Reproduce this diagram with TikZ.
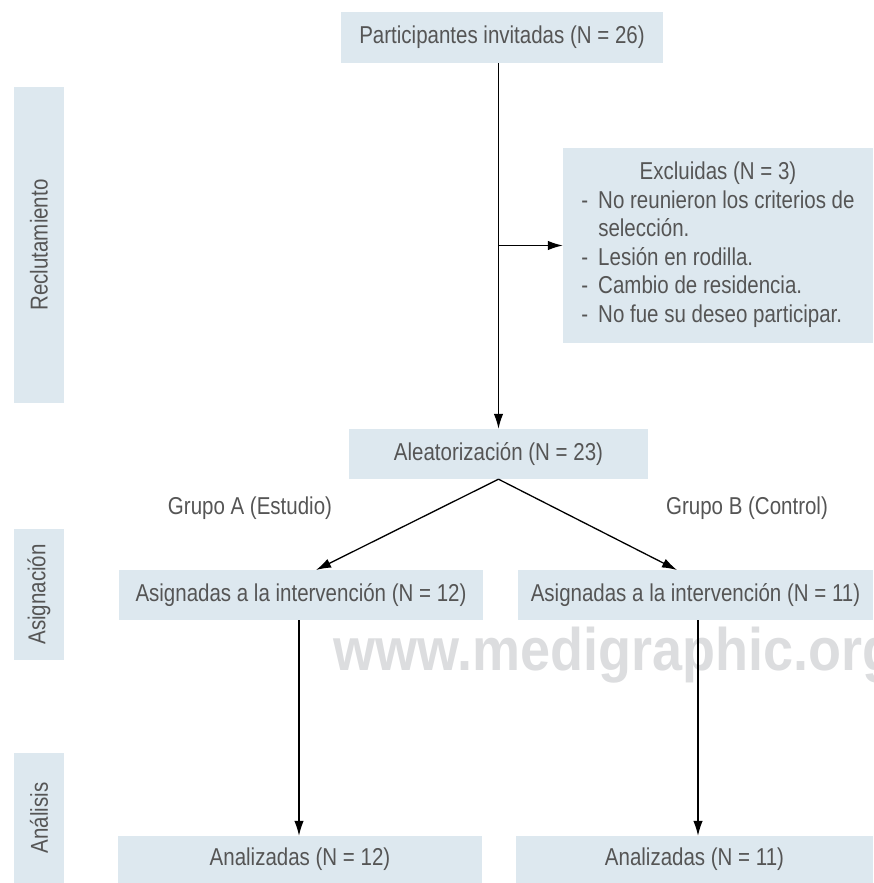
\documentclass[tikz,border=0pt]{standalone}
\usepackage{fontspec}
\setmainfont[FakeStretch=0.84]{Liberation Sans}
\newfontfamily\marcafont[FakeStretch=0.9]{Liberation Sans}
\usepackage{tikz}
\usetikzlibrary{positioning}
\usetikzlibrary{arrows.meta}
\definecolor{cajafondo}{HTML}{DDE8EF}
\definecolor{textogris}{HTML}{555555}
\definecolor{marcaagua}{HTML}{DCDDDF}

\begin{document}
\begin{tikzpicture}[x=1pt, y=-1pt,
  every node/.style={font=\fontsize{24.4}{28.5}\selectfont, text=textogris},
  caja/.style={fill=cajafondo, inner sep=0pt},
  lateral/.style={fill=cajafondo, inner sep=0pt, rotate=90, minimum height=50pt},
  flecha/.style={-{Latex[length=15pt,width=9.5pt]}, line width=1.3pt}]
              \useasboundingbox (0,0) rectangle (873,883);
              % Marca de agua
              \node[anchor=base west, font=\marcafont\bfseries\fontsize{60}{62}\selectfont, text=marcaagua] (marca) at (330,670) {www.medigraphic.org};

              % Etapas
              \node[lateral, minimum width=316pt] (reclut) at (39,245) {Reclutamiento};
              \node[lateral, minimum width=131pt] (asign) at (39,594.5) {Asignación};
              \node[lateral, minimum width=130pt] (analis) at (39,818) {Análisis};

              % Nodos
              \node[caja, minimum width=322pt, minimum height=51pt] (invitadas) at (502,37.5) {Participantes invitadas (N = 26)};
              \node[caja, minimum width=310pt, minimum height=195pt] (excl) at (718,245.5) {%
                \begin{tabular}{@{}l@{\hspace{10pt}}l@{}}
                \multicolumn{2}{c}{Excluidas (N = 3)}\\
                - & No reunieron los criterios de\\
                  & selección.\\
                - & Lesión en rodilla.\\
                - & Cambio de residencia.\\
                - & No fue su deseo participar.
                \end{tabular}};
              \node[caja, minimum width=299pt, minimum height=50pt] (aleat) at (498.5,454) {Aleatorización (N = 23)};
              \node (grupoA) at (250,508) {Grupo A (Estudio)};
              \node (grupoB) at (747,508) {Grupo B (Control)};
              \node[caja, minimum width=364pt, minimum height=50pt] (asigA) at (301,595) {Asignadas a la intervención (N = 12)};
              \node[caja, minimum width=355pt, minimum height=50pt] (asigB) at (695.5,595) {Asignadas a la intervención (N = 11)};
              \node[caja, minimum width=364pt, minimum height=47pt] (analA) at (300,859.5) {Analizadas (N = 12)};
              \node[caja, minimum width=357pt, minimum height=47pt] (analB) at (694.5,859.5) {Analizadas (N = 11)};

              \coordinate (rama) at (aleat.north |- excl.west);
              \coordinate (puntaA) at (316,570);
              \coordinate (puntaB) at (677,570);

              % Flechas
              \draw[flecha] (invitadas.south -| aleat.north) -- (aleat.north);
              \draw[flecha] (rama) -- (excl.west);
              \draw[flecha] (aleat.south) -- (puntaA);
              \draw[flecha] (aleat.south) -- (puntaB);
              \draw[flecha] ([xshift=-2pt]asigA.south) -- ([xshift=-1pt]analA.north);
              \draw[flecha] ([xshift=2.5pt]asigB.south) -- ([xshift=3.5pt]analB.north);
            \end{tikzpicture}
\end{document}
